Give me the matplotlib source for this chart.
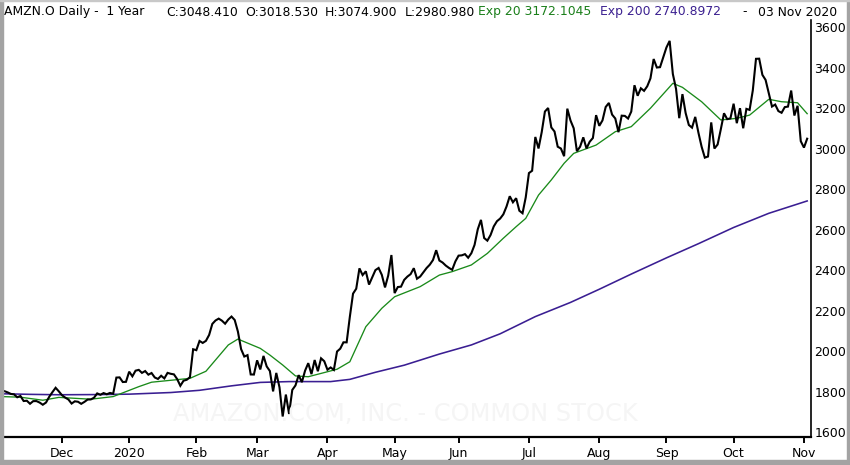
import numpy as np
import pandas as pd
import matplotlib
matplotlib.use("Agg")
import matplotlib.pyplot as plt
from matplotlib.patches import Rectangle

# ---------------- data ----------------
holidays = ["2019-11-28", "2019-12-25", "2020-01-01", "2020-01-20", "2020-02-17",
            "2020-04-10", "2020-05-25", "2020-07-03", "2020-09-07"]
dates = pd.bdate_range("2019-11-04", "2020-11-03")
dates = dates[~dates.isin(pd.to_datetime(holidays))]

close = [
    # Nov 2019
    1804.7, 1801.7, 1795.8, 1788.2, 1785.9, 1771.7, 1778.0, 1753.1, 1754.6, 1739.5,
    1752.5, 1752.8, 1745.5, 1734.7, 1745.7, 1773.8, 1796.9, 1818.5, 1800.8,
    # Dec
    1781.6, 1770.0, 1760.7, 1740.5, 1751.6, 1749.5, 1739.2, 1748.7, 1760.3, 1760.9,
    1769.2, 1790.7, 1784.0, 1792.3, 1786.5, 1793.0, 1789.2, 1868.8, 1869.8, 1846.9, 1847.8,
    # Jan 2020
    1898.0, 1875.0, 1902.9, 1906.9, 1892.0, 1901.1, 1883.2, 1891.3, 1869.4, 1862.0,
    1877.9, 1864.7, 1892.0, 1887.5, 1884.6, 1861.6, 1828.3, 1853.3, 1858.0, 1870.7, 2008.7,
    # Feb
    2004.2, 2049.7, 2039.9, 2050.2, 2079.3, 2133.9, 2150.8, 2160.0, 2149.9, 2134.9,
    2155.7, 2170.2, 2153.1, 2096.0, 2009.3, 1972.7, 1979.6, 1884.3, 1883.8,
    # Mar
    1954.0, 1909.0, 1975.8, 1924.0, 1901.1, 1800.6, 1891.8, 1820.9, 1676.6, 1785.0,
    1689.2, 1807.8, 1830.0, 1880.9, 1846.1, 1902.8, 1940.1, 1885.8, 1955.5, 1900.1,
    1964.0, 1949.7,
    # Apr
    1907.7, 1918.8, 1906.6, 1997.6, 2011.6, 2043.0, 2042.8, 2168.9, 2283.3, 2307.7,
    2408.2, 2375.0, 2393.6, 2328.1, 2363.5, 2399.5, 2410.2, 2376.0, 2314.1, 2372.7, 2474.0,
    # May
    2286.0, 2316.0, 2317.8, 2351.3, 2367.6, 2379.6, 2409.0, 2357.0, 2367.9, 2388.9,
    2409.8, 2426.3, 2449.3, 2497.9, 2446.7, 2436.9, 2421.9, 2410.4, 2401.1, 2442.4,
    # Jun
    2471.0, 2472.4, 2478.4, 2460.6, 2483.0, 2524.1, 2600.9, 2647.5, 2558.0, 2545.0,
    2572.7, 2615.3, 2641.0, 2654.0, 2675.0, 2713.8, 2764.4, 2734.4, 2754.6, 2692.9,
    2680.4, 2758.8,
    # Jul
    2878.7, 2890.3, 3057.0, 3000.1, 3081.1, 3182.6, 3200.0, 3104.0, 3084.0, 3008.9,
    2999.9, 2962.0, 3196.8, 3138.3, 3099.9, 2986.6, 3008.9, 3055.2, 3000.3, 3033.5,
    3051.9, 3164.7,
    # Aug
    3111.9, 3138.8, 3205.0, 3225.0, 3167.5, 3148.2, 3080.7, 3162.2, 3161.0, 3148.0,
    3182.4, 3312.5, 3260.5, 3297.4, 3284.7, 3307.5, 3346.5, 3441.9, 3400.0, 3401.8, 3451.0,
    # Sep
    3499.1, 3531.5, 3368.0, 3294.6, 3149.8, 3268.6, 3175.1, 3116.2, 3103.0, 3156.1,
    3078.1, 3008.7, 2954.9, 2960.5, 3129.0, 2999.9, 3019.8, 3095.1, 3174.1, 3144.9, 3148.7,
    # Oct
    3221.3, 3125.0, 3199.2, 3100.0, 3195.7, 3190.6, 3286.7, 3442.9, 3443.6, 3363.7,
    3338.7, 3272.7, 3207.2, 3217.0, 3184.9, 3176.4, 3204.4, 3207.0, 3286.3, 3162.8,
    3211.0, 3036.2,
    # Nov 2020
    3004.5, 3048.4,
]

# EMA 20 (trading-day index -> value)
ema20_idx = [0, 6, 13, 18, 28, 35, 43, 47, 54, 59, 64, 71, 74, 81, 84, 88, 92, 96,
             105, 109, 114, 119, 123, 131, 137, 141, 147, 152, 157, 161, 164, 168,
             172, 176, 179, 186, 192, 197, 203, 210, 213, 219, 225, 230, 234, 240,
             244, 249, 252]
ema20_val = [1775, 1772, 1757, 1771, 1762, 1775, 1824, 1846, 1857, 1865, 1900, 2030,
             2059, 2013, 1980, 1931, 1877, 1873, 1910, 1947, 2120, 2211, 2268, 2318,
             2375, 2392, 2425, 2482, 2557, 2614, 2655, 2770, 2845, 2927, 2976, 3017,
             3083, 3108, 3199, 3322, 3302, 3231, 3141, 3149, 3165, 3243, 3231, 3226,
             3172]

# EMA 200
ema200_idx = [0, 9, 18, 31, 40, 53, 62, 72, 81, 90, 103, 109, 117, 126, 137, 147,
              156, 167, 178, 187, 197, 208, 218, 229, 240, 252]
ema200_val = [1789, 1786, 1784, 1785, 1787, 1795, 1806, 1828, 1845, 1849, 1849, 1860,
              1895, 1930, 1985, 2030, 2085, 2170, 2240, 2305, 2380, 2460, 2530, 2610,
              2680, 2741]

month_labels = ["Dec", "2020", "Feb", "Mar", "Apr", "May", "Jun", "Jul", "Aug",
                "Sep", "Oct", "Nov"]
y_ticks = [1600, 1800, 2000, 2200, 2400, 2600, 2800, 3000, 3200, 3400, 3600]

# ---------------- figure ----------------
W, H = 850, 465
fig = plt.figure(figsize=(W / 100, H / 100), dpi=100)
fig.patch.set_facecolor("white")
plt.rcParams["font.family"] = ["DejaVu Sans"]

ax_l, ax_r, ax_t, ax_b = 0, 811, 20, 437
ax = fig.add_axes([ax_l / W, (H - ax_b) / H, (ax_r - ax_l) / W, (ax_b - ax_t) / H])
ax.set_facecolor("white")

x = np.arange(len(dates))
n = min(len(x), len(close))
ax.plot(ema200_idx, ema200_val, color="#3a1e92", lw=1.15, zorder=3)
ax.plot(ema20_idx, ema20_val, color="#1a8a1a", lw=0.95, zorder=4)
ax.plot(x[:n], close[:n], color="black", lw=1.5, zorder=5, solid_joinstyle="miter")

ax.set_xlim(-0.39, 253.2)
ax.set_ylim(1575.4, 3634.6)

# month ticks at first trading day of each month
months = pd.Series(dates.to_period("M"))
first_idx = [i for i in range(1, len(months)) if months[i] != months[i - 1]]
ax.set_xticks(first_idx)
ax.set_xticklabels(month_labels[:len(first_idx)])
ax.tick_params(axis="x", direction="out", length=4.5, width=1.4, pad=3,
               labelsize=9, colors="black")

ax.yaxis.tick_right()
ax.set_yticks(y_ticks)
ax.set_yticklabels([str(v) for v in y_ticks])
ax.tick_params(axis="y", length=0, pad=2.5, labelsize=9)

for s in ["top", "left"]:
    ax.spines[s].set_visible(False)
ax.spines["bottom"].set_linewidth(1.6)
ax.spines["right"].set_linewidth(1.2)

# watermark
fig.text(405 / W, 1 - 414 / H, "AMAZON.COM, INC. - COMMON STOCK", fontsize=17.4,
         color="#f5f5f5", ha="center", va="center", zorder=0)

# header
def px(xp, yp):
    return xp / W, 1 - yp / H

hy = 12
hdr = dict(fontsize=8.9, va="center", ha="left")
fig.text(*px(4, hy), "AMZN.O Daily -  1 Year", color="black", **hdr)
fig.text(*px(166, hy), "C:3048.410", color="black", **hdr)
fig.text(*px(245, hy), "O:3018.530", color="black", **hdr)
fig.text(*px(325, hy), "H:3074.900", color="black", **hdr)
fig.text(*px(405, hy), "L:2980.980", color="black", **hdr)
fig.text(*px(478, hy), "Exp 20 3172.1045", color="#1a7f1a", **hdr)
fig.text(*px(600, hy), "Exp 200 2740.8972", color="#3b2090", **hdr)
fig.text(*px(742, hy), "-", color="black", **hdr)
fig.text(*px(758, hy), "03 Nov 2020", color="black", **hdr)

# outer frame
border = "#a3a3a3"
fig.patches.append(Rectangle((0, 0), 3 / W, 1, transform=fig.transFigure,
                             color=border, zorder=10))
fig.patches.append(Rectangle((0, 0), 1, 5 / H, transform=fig.transFigure,
                             color=border, zorder=10))
fig.patches.append(Rectangle((1 - 3 / W, 0), 3 / W, 1, transform=fig.transFigure,
                             color=border, zorder=10))
fig.patches.append(Rectangle((0, 1 - 1.5 / H), 1, 1.5 / H, transform=fig.transFigure,
                             color="#c8c8c8", zorder=10))

fig.savefig("out.png", dpi=100, facecolor="white")
